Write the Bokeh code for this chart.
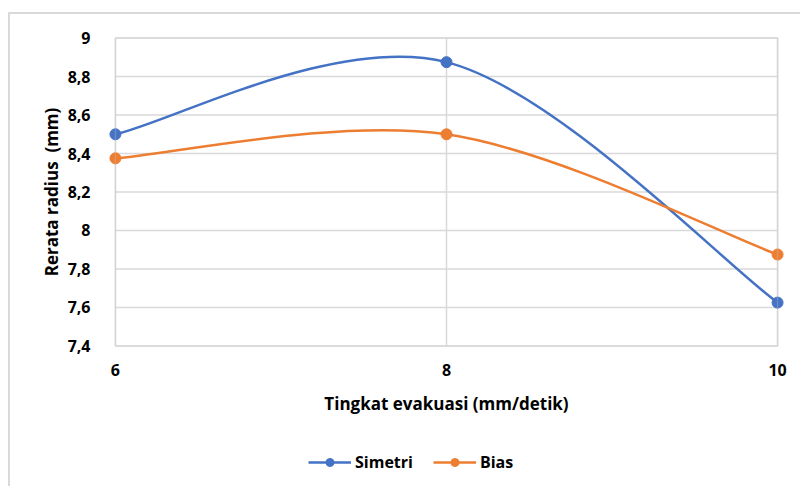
from bokeh.plotting import figure
from bokeh.layouts import column
from bokeh.models import (Range1d, FixedTicker, CustomJSTickFormatter, Legend, LegendItem,
                          BoxAnnotation, ColumnDataSource)
from bokeh.embed import file_html
from bokeh.resources import INLINE

# ---- data ----
x_values = [6, 8, 10]
simetri = [8.5, 8.875, 7.625]
bias = [8.375, 8.5, 7.875]
y_ticks = [7.4, 7.6, 7.8, 8.0, 8.2, 8.4, 8.6, 8.8, 9.0]
x_ticks = [6, 8, 10]
x_title = "Tingkat evakuasi (mm/detik)"
y_title = "Rerata radius\u00a0\u00a0(mm)"
series_names = ["Simetri", "Bias"]

BLUE = "#4472C4"
ORANGE = "#ED7D31"
GRID = "#D9D9D9"
FONT = "Open Sans"


def smooth_segments(xs, ys):
    """Bezier control points (Excel-like smoothing) from the data points."""
    n = len(xs)
    d = dict(x0=[], y0=[], x1=[], y1=[], cx0=[], cy0=[], cx1=[], cy1=[])
    for i in range(n - 1):
        xp, yp = (xs[i - 1], ys[i - 1]) if i > 0 else (xs[i], ys[i])
        xn, yn = (xs[i + 2], ys[i + 2]) if i + 2 < n else (xs[i + 1], ys[i + 1])
        d["x0"].append(xs[i]); d["y0"].append(ys[i])
        d["x1"].append(xs[i + 1]); d["y1"].append(ys[i + 1])
        d["cx0"].append(xs[i] + (xs[i + 1] - xp) / 6)
        d["cy0"].append(ys[i] + (ys[i + 1] - yp) / 6)
        d["cx1"].append(xs[i + 1] - (xn - xs[i]) / 6)
        d["cy1"].append(ys[i + 1] - (yn - ys[i]) / 6)
    return ColumnDataSource(d)


xmin, xmax = x_ticks[0], x_ticks[-1]
ymin, ymax = y_ticks[0], y_ticks[-1]

p = figure(width=800, height=440, output_backend="svg", toolbar_location=None,
           x_range=Range1d(5.94, 10.06), y_range=Range1d(7.35, 9.05),
           min_border_left=105, min_border_right=13, min_border_top=28, min_border_bottom=85)
p.background_fill_color = "white"
p.border_fill_alpha = 0
p.outline_line_color = None

p.xaxis.ticker = FixedTicker(ticks=x_ticks)
p.yaxis.ticker = FixedTicker(ticks=y_ticks)
p.yaxis.formatter = CustomJSTickFormatter(
    code="var s = (Math.round(tick*10)/10).toString(); return s.replace('.', ',');")

for ax in (p.xaxis, p.yaxis):
    ax.axis_line_color = None
    ax.major_tick_line_color = None
    ax.minor_tick_line_color = None
    ax.major_label_text_font = FONT
    ax.major_label_text_font_style = "bold"
    ax.major_label_text_font_size = "16px"
    ax.major_label_text_color = "#000000"
    ax.axis_label_text_font = FONT
    ax.axis_label_text_font_style = "bold"
    ax.axis_label_text_font_size = "17px"
    ax.axis_label_text_color = "#000000"

p.xaxis.axis_label = x_title
p.yaxis.axis_label = y_title
p.yaxis.major_label_standoff = 9
p.yaxis.axis_label_standoff = 2
p.xaxis.major_label_standoff = 2
p.xaxis.axis_label_standoff = 13

p.xgrid.visible = False
p.ygrid.visible = False

# gridlines and plot-area border, drawn over the 6..10 / 7.4..9 area only
p.segment(x0=xmin, x1=xmax, y0=y_ticks, y1=y_ticks, line_color=GRID, line_width=1.5)
p.segment(x0=x_ticks, x1=x_ticks, y0=ymin, y1=ymax, line_color=GRID, line_width=1.5)
p.add_layout(BoxAnnotation(left=xmin, right=xmax, bottom=ymin, top=ymax,
                           fill_color=None, line_color="#C8C8C8", line_width=1.5))

# legend strip below the chart
leg = figure(width=800, height=46, output_backend="svg", toolbar_location=None,
             x_axis_type=None, y_axis_type=None, x_range=Range1d(0, 1), y_range=Range1d(0, 1),
             min_border=0)
leg.border_fill_alpha = 0
leg.background_fill_alpha = 0
leg.outline_line_color = None
leg.xgrid.visible = False
leg.ygrid.visible = False

items = []
for name, ys, color in zip(series_names, (simetri, bias), (BLUE, ORANGE)):
    src = smooth_segments(x_values, ys)
    p.bezier(x0="x0", y0="y0", x1="x1", y1="y1", cx0="cx0", cy0="cy0",
             cx1="cx1", cy1="cy1", source=src, line_color=color, line_width=2.5)
    p.scatter(x=x_values, y=ys, size=11, marker="circle",
              fill_color=color, line_color=color)
    # legend keys (same series, outside the strip's visible range)
    l_line = leg.line(x=x_values, y=ys, line_color=color, line_width=2.5)
    l_pt = leg.scatter(x=x_values, y=ys, size=11, marker="circle",
                       fill_color=color, line_color=color)
    items.append(LegendItem(label=name, renderers=[l_line, l_pt]))

legend = Legend(items=items, orientation="horizontal", location=(203, 13),
                label_text_font=FONT, label_text_font_style="bold",
                label_text_font_size="16px", label_text_color="#000000",
                glyph_width=43, glyph_height=20, label_height=20, label_standoff=4,
                spacing=20, padding=0, margin=0,
                border_line_color=None, background_fill_alpha=0)
leg.add_layout(legend, "center")

layout = column(p, leg, spacing=0)
layout.styles = {
    "background": "linear-gradient(#D9D9D9, #D9D9D9) 8px 12px / 792px 2px no-repeat, "
                  "linear-gradient(#D9D9D9, #D9D9D9) 8px 12px / 2px 474px no-repeat, #FFFFFF"
}

open("out.html", "w").write(file_html(layout, INLINE))
